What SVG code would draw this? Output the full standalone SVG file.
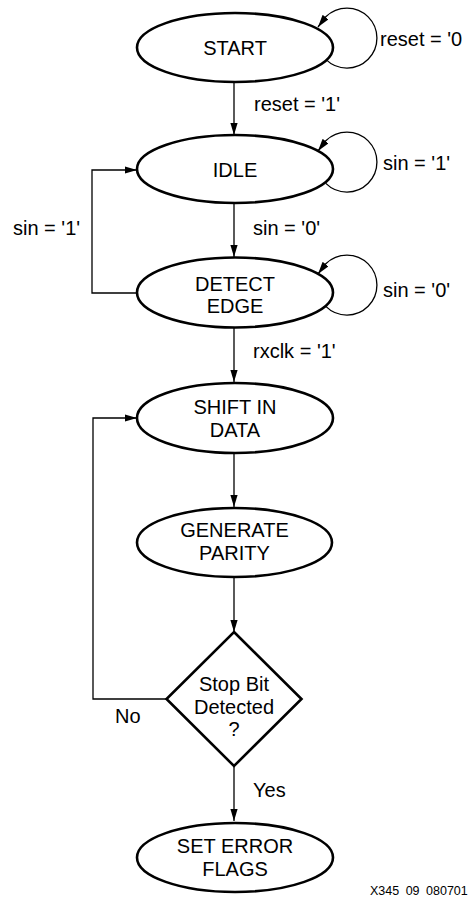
<svg xmlns="http://www.w3.org/2000/svg" width="472" height="909" viewBox="0 0 472 909">
<defs>
<marker id="arr" markerUnits="userSpaceOnUse" markerWidth="13" markerHeight="8" refX="12.5" refY="3.75" orient="auto">
<path d="M0,0 L12.5,3.75 L0,7.5 z" fill="#000"/>
</marker>
<style>
.node{fill:#fff;stroke:#000;stroke-width:2.6}
.t{font-family:"Liberation Sans",Arial,sans-serif;font-size:20px;fill:#000}
.c{text-anchor:middle}
.ln{fill:none;stroke:#000;stroke-width:1.3}
</style>
</defs>
<rect width="472" height="909" fill="#fff"/>
<g id="connectors">
<path class="ln" d="M234,82 V135" marker-end="url(#arr)"/>
<path class="ln" d="M234,203 V257" marker-end="url(#arr)"/>
<path class="ln" d="M234,327 V382" marker-end="url(#arr)"/>
<path class="ln" d="M234,453 V507" marker-end="url(#arr)"/>
<path class="ln" d="M234,577 V632" marker-end="url(#arr)"/>
<path class="ln" d="M234,766 V821" marker-end="url(#arr)"/>
<path class="ln" d="M137,293 H92 V170 H137" marker-end="url(#arr)"/>
<path class="ln" d="M167,699 H93 V418 H137" marker-end="url(#arr)"/>
<path class="ln" d="M325.8,59.4 A30 30 0 1 0 325.8,16.8 L318,27" marker-end="url(#arr)"/>
<path class="ln" d="M325.8,183.4 A30 30 0 1 0 325.8,140.8 L318,151" marker-end="url(#arr)"/>
<path class="ln" d="M325.8,306.4 A30 30 0 1 0 325.8,263.8 L318,274" marker-end="url(#arr)"/>
<text class="t" x="254" y="111">reset = '1'</text>
<text class="t" x="380" y="46">reset = '0</text>
<text class="t" x="383" y="170">sin = '1'</text>
<text class="t" x="253" y="235">sin = '0'</text>
<text class="t" x="13" y="235">sin = '1'</text>
<text class="t" x="383" y="297">sin = '0'</text>
<text class="t" x="253" y="358">rxclk = '1'</text>
<text class="t" x="115" y="723">No</text>
<text class="t" x="253" y="797">Yes</text>
</g>
<g id="start">
<ellipse class="node" cx="235" cy="47.5" rx="98" ry="34.5"/>
<text class="t c" x="235" y="55">START</text>
</g>
<g id="idle">
<ellipse class="node" cx="235" cy="169" rx="98" ry="34"/>
<text class="t c" x="235" y="177">IDLE</text>
</g>
<g id="detect_edge">
<ellipse class="node" cx="235" cy="292.5" rx="98" ry="35"/>
<text class="t c" x="235" y="290.5">DETECT</text>
<text class="t c" x="235" y="313">EDGE</text>
</g>
<g id="shift_in_data">
<ellipse class="node" cx="235" cy="418" rx="98" ry="35"/>
<text class="t c" x="235" y="414">SHIFT IN</text>
<text class="t c" x="235" y="436.5">DATA</text>
</g>
<g id="generate_parity">
<ellipse class="node" cx="234.5" cy="542.5" rx="97.5" ry="34.5"/>
<text class="t c" x="234.5" y="537">GENERATE</text>
<text class="t c" x="234.5" y="559.5">PARITY</text>
</g>
<g id="stop_bit">
<polygon class="node" points="234,632 301.5,699 234,766 166.5,699"/>
<text class="t c" x="234" y="691">Stop Bit</text>
<text class="t c" x="234" y="713.5">Detected</text>
<text class="t c" x="234" y="736">?</text>
</g>
<g id="set_error_flags">
<ellipse class="node" cx="235" cy="857.5" rx="98" ry="34.5"/>
<text class="t c" x="235" y="853">SET ERROR</text>
<text class="t c" x="235" y="875.5">FLAGS</text>
</g>
<text x="370" y="895" style="font-family:'Liberation Sans',Arial,sans-serif;font-size:12.5px;word-spacing:3px" fill="#000">X345 09 080701</text>
</svg>
